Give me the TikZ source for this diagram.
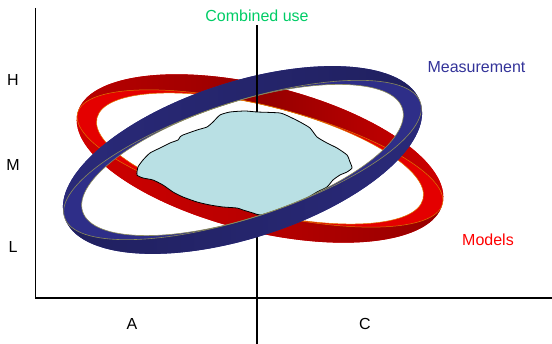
\documentclass[tikz,border=0pt]{standalone}
\usepackage{fontspec}
\setmainfont{Liberation Sans}
\usepackage{tikz}
\definecolor{halkaKirmizi}{HTML}{E40000}
\definecolor{ortaKirmizi}{HTML}{B80000}
\definecolor{koyuKirmizi}{HTML}{960000}
\definecolor{acikKirmizi}{HTML}{D00000}
\definecolor{halkaMavi}{HTML}{2E2E88}
\definecolor{ortaMavi}{HTML}{2A2A7A}
\definecolor{koyuMavi}{HTML}{20205F}
\definecolor{turuncuKenar}{HTML}{E07800}
\definecolor{zeytinKenar}{HTML}{8C8C5A}
\definecolor{bulutMavi}{HTML}{B9E0E4}
\definecolor{yaziYesil}{HTML}{00CC66}
\definecolor{yaziMavi}{HTML}{333399}
\definecolor{yaziKirmizi}{HTML}{FF0000}

\begin{document}
\begin{tikzpicture}[x=1pt,y=1pt,
  etiket/.style={font=\fontsize{16}{19}\selectfont},
  kirmiziKenar/.style={turuncuKenar,line width=0.5pt},
  maviKenar/.style={zeytinKenar,line width=0.6pt}]
\useasboundingbox (0,0) rectangle (552,344);
% eksenler
\coordinate (o) at (35.5,46);
\coordinate (yuc) at (35.5,336);
\coordinate (xuc) at (552,46);
\draw[line width=1.1pt] (yuc) -- (o) -- (xuc);
\node[etiket] (h) at (13,264) {H};
\node[etiket] (m) at (13,179) {M};
\node[etiket] (l) at (13,97) {L};
\node[etiket] (a) at (132,20) {A};
\node[etiket] (c) at (365,20) {C};
% orta cizgi
\node[etiket,yaziYesil] (birlesik) at (257,328) {Combined use};
\coordinate (alt) at (257,0);
\coordinate (bulutTepe) at (257,232);
\draw[line width=1.2pt] (bulutTepe) -- (alt);
% kirmizi halka
\begin{scope}[shift={(260,185.5)},rotate=-14]
\fill[halkaKirmizi,even odd rule] (0,0) ellipse[x radius=188,y radius=73] (0,0) ellipse[x radius=168,y radius=53];
\shade[left color=ortaKirmizi,right color=acikKirmizi,middle color=koyuKirmizi] (188,0) arc[start angle=0,end angle=180,x radius=188,y radius=73] arc[start angle=180,end angle=0,x radius=188,y radius=53] -- cycle;
\shade[left color=acikKirmizi,right color=koyuKirmizi,middle color=ortaKirmizi] (-188,0) arc[start angle=180,end angle=360,x radius=188,y radius=73] arc[start angle=360,end angle=180,x radius=188,y radius=53] -- cycle;
\draw[kirmiziKenar] (0,0) ellipse[x radius=168,y radius=53];
\draw[kirmiziKenar] (188,0) arc[start angle=0,end angle=180,x radius=188,y radius=53];
\draw[kirmiziKenar] (-188,0) arc[start angle=180,end angle=360,x radius=188,y radius=53];
\end{scope}
% ortak bolge
\filldraw[fill=bulutMavi,draw=black,line width=0.8pt] plot[smooth cycle,tension=0.35] coordinates {
  (220,229) (230,232) (245,233) (257,232) (280,231) (290,227) (300,222)
  (310,216) (317,207) (327,201) (337,196) (347,189) (350,182) (352,176)
  (347,172) (340,169) (333,164) (327,157) (317,152) (307,146) (297,141)
  (287,136) (273,132) (260,129) (253,131) (243,134) (237,136) (223,137)
  (210,139) (197,142) (183,147) (173,152) (163,159) (153,164) (143,166)
  (137,169) (138,177) (143,184) (150,191) (160,196) (170,201) (178,204)
  (180,207) (183,209) (197,214) (207,217) (213,222)};
% mavi halka
\begin{scope}[shift={(242.5,184)},rotate=17.9]
\fill[halkaMavi,even odd rule] (0,0) ellipse[x radius=187,y radius=78] (0,0) ellipse[x radius=168,y radius=58];
\shade[left color=ortaMavi,right color=koyuMavi] (187,0) arc[start angle=0,end angle=180,x radius=187,y radius=78] arc[start angle=180,end angle=0,x radius=187,y radius=58] -- cycle;
\shade[left color=koyuMavi,right color=ortaMavi] (-187,0) arc[start angle=180,end angle=360,x radius=187,y radius=78] arc[start angle=360,end angle=180,x radius=187,y radius=58] -- cycle;
\draw[maviKenar] (0,0) ellipse[x radius=168,y radius=58];
\draw[maviKenar] (187,0) arc[start angle=0,end angle=180,x radius=187,y radius=58];
\draw[maviKenar] (-187,0) arc[start angle=180,end angle=360,x radius=187,y radius=58];
\end{scope}
\draw[line width=1.2pt] (birlesik.south) -- (bulutTepe);
% etiketler
\node[etiket,yaziMavi] (olcum) at (476.5,277) {Measurement};
\node[etiket,yaziKirmizi] (model) at (488,104) {Models};
\end{tikzpicture}
\end{document}
